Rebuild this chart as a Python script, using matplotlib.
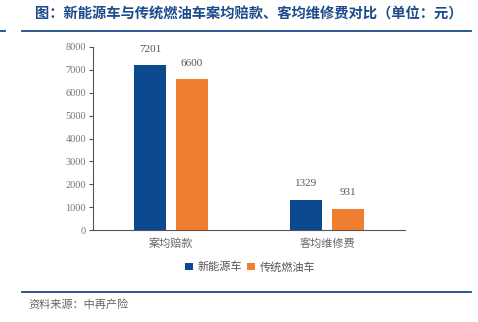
import matplotlib
matplotlib.use("Agg")
import matplotlib.pyplot as plt
import numpy as np

categories = ["案均赔款", "客均维修费"]
series_names = ["新能源车", "传统燃油车"]
nev_values = [7201, 1329]
ice_values = [6600, 931]
yticks = [0, 1000, 2000, 3000, 4000, 5000, 6000, 7000, 8000]

plt.rcParams['font.family'] = ['Noto Sans CJK SC', 'DejaVu Sans']

W, H = 478, 322
fig = plt.figure(figsize=(W/100, H/100), dpi=100)

def fx(px): return px / W
def fy(py): return 1 - py / H

ax = fig.add_axes([fx(93), fy(230), fx(405) - fx(93), fy(47) - fy(230)])
blue = "#0b4a8e"
orange = "#ef7e31"
x = np.arange(len(categories))
w = 0.21
off = 0.135
b1 = ax.bar(x - off, nev_values, w, color=blue, label=series_names[0], zorder=3)
b2 = ax.bar(x + off, ice_values, w, color=orange, label=series_names[1], zorder=3)
for bars, vals in ((b1, nev_values), (b2, ice_values)):
    for r, v in zip(bars, vals):
        ax.text(r.get_x() + r.get_width()/2, v + 500, str(v), ha='center', va='bottom',
                fontsize=8, color='#555555', family=['Liberation Serif'])

ax.set_xlim(-0.5, 1.5)
ax.set_ylim(0, 8000)
ax.set_yticks(yticks)
ax.set_yticklabels([str(t) for t in yticks], family=['Liberation Serif'], fontsize=7.5, color='#777777')
ax.set_xticks(x)
ax.set_xticklabels(categories, fontsize=8, color='#666666')
ax.tick_params(axis='x', length=0, pad=6)
ax.tick_params(axis='y', length=3, color='#555555', pad=2)
for s in ['top', 'right']:
    ax.spines[s].set_visible(False)
ax.spines['left'].set_color('#555555')
ax.spines['bottom'].set_color('#555555')

leg = fig.legend(handles=[b1, b2], labels=series_names, loc='center', bbox_to_anchor=(fx(250), fy(267)),
                 ncol=2, frameon=False, fontsize=8, handlelength=0.7, handleheight=0.7,
                 handletextpad=0.4, columnspacing=0.5)
for t in leg.get_texts():
    t.set_color('#555555')

title_color = "#1c4a8a"
fig.text(fx(35), fy(15), "图：新能源车与传统燃油车案均赔款、客均维修费对比（单位：元）",
         fontsize=10.3, fontweight='bold', color=title_color, ha='left', va='center')
fig.add_artist(plt.Line2D([fx(22), fx(471)], [fy(31), fy(31)], color=title_color, lw=1.3))
fig.add_artist(plt.Line2D([fx(0), fx(5)], [fy(31), fy(31)], color=title_color, lw=1.3))
fig.add_artist(plt.Line2D([fx(22), fx(471)], [fy(292), fy(292)], color=title_color, lw=1.3))
fig.text(fx(28), fy(305), "资料来源：中再产险", fontsize=8, style='italic', color='#666666',
         ha='left', va='center')

fig.savefig("out.png", dpi=100)
